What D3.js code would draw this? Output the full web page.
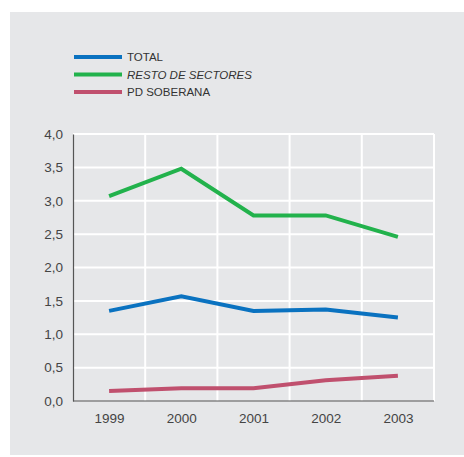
<!DOCTYPE html>
<html><head><meta charset="utf-8">
<script src="https://cdn.jsdelivr.net/npm/d3@7"></script>
<style>body{margin:0;background:#fff}svg{display:block}text{font-family:"Liberation Sans",Arial,sans-serif}</style>
</head><body>
<svg id="c" width="464" height="457"></svg>
<script>
const years = ["1999","2000","2001","2002","2003"];
const total = [1.35, 1.57, 1.35, 1.37, 1.25];
const resto = [3.07, 3.48, 2.78, 2.78, 2.46];
const pdSoberana = [0.15, 0.19, 0.19, 0.31, 0.38];
const yTicks = [0, 0.5, 1, 1.5, 2, 2.5, 3, 3.5, 4];
const seriesNames = ["TOTAL", "RESTO DE SECTORES", "PD SOBERANA"];
const colors = ["#0a72c0", "#22b24c", "#c0506e"];

const series = [total, resto, pdSoberana];
const svg = d3.select("#c");
svg.append("rect").attr("x",10).attr("y",12).attr("width",454).attr("height",443).attr("fill","#e6e7e9");

const L = 73, R = 434, T = 134, B = 401;
const xBand = d3.scaleBand().domain(years).range([L, R]);
const x = d3.scalePoint().domain(years).range([L, R]).padding(0.5);
const y = d3.scaleLinear().domain([0, 4]).range([B, T]);

const g = svg.append("g");
g.selectAll(".hg").data(yTicks.slice(1)).join("line")
  .attr("x1", L).attr("x2", R).attr("y1", d=>y(d)).attr("y2", d=>y(d))
  .attr("stroke","#fff").attr("stroke-width",2);
g.selectAll(".vg").data(years.slice(1)).join("line")
  .attr("x1", d=>xBand(d)).attr("x2", d=>xBand(d)).attr("y1", T).attr("y2", B)
  .attr("stroke","#fff").attr("stroke-width",2);
g.append("line").attr("x1",R).attr("x2",R).attr("y1",T).attr("y2",B).attr("stroke","#fff").attr("stroke-width",2);

const yAxis = d3.axisLeft(y).tickValues(yTicks).tickSize(0).tickPadding(10)
  .tickFormat(d => d3.format(".1f")(d).replace(".", ","));
const ya = svg.append("g").attr("transform",`translate(${L},0)`).call(yAxis);
ya.select(".domain").attr("stroke","#555").attr("stroke-width",1.2);
ya.selectAll("text").attr("font-size",13.5).attr("fill","#444");

const xAxis = d3.axisBottom(x).tickSize(0).tickPadding(12);
const xa = svg.append("g").attr("transform",`translate(0,${B})`).call(xAxis);
xa.select(".domain").attr("d", `M${L},0H${R}`).attr("stroke","#555").attr("stroke-width",1.2);
xa.selectAll("text").attr("font-size",13.5).attr("fill","#444");

const line = d3.line().x((d,i)=>x(years[i])).y(d=>y(d));
series.forEach((s,i)=>{
  svg.append("path").attr("d", line(s)).attr("fill","none")
    .attr("stroke", colors[i]).attr("stroke-width",4).attr("stroke-linejoin","miter");
});

const lg = svg.append("g");
seriesNames.forEach((n,i)=>{
  const ly = 57 + i*17.5;
  lg.append("line").attr("x1",74).attr("x2",122).attr("y1",ly).attr("y2",ly)
    .attr("stroke",colors[i]).attr("stroke-width",4);
  lg.append("text").attr("x",127).attr("y",ly+4).text(n)
    .attr("font-size",11.5).attr("fill","#333")
    .attr("font-style", i===1 ? "italic" : "normal");
});
</script>
</body></html>
